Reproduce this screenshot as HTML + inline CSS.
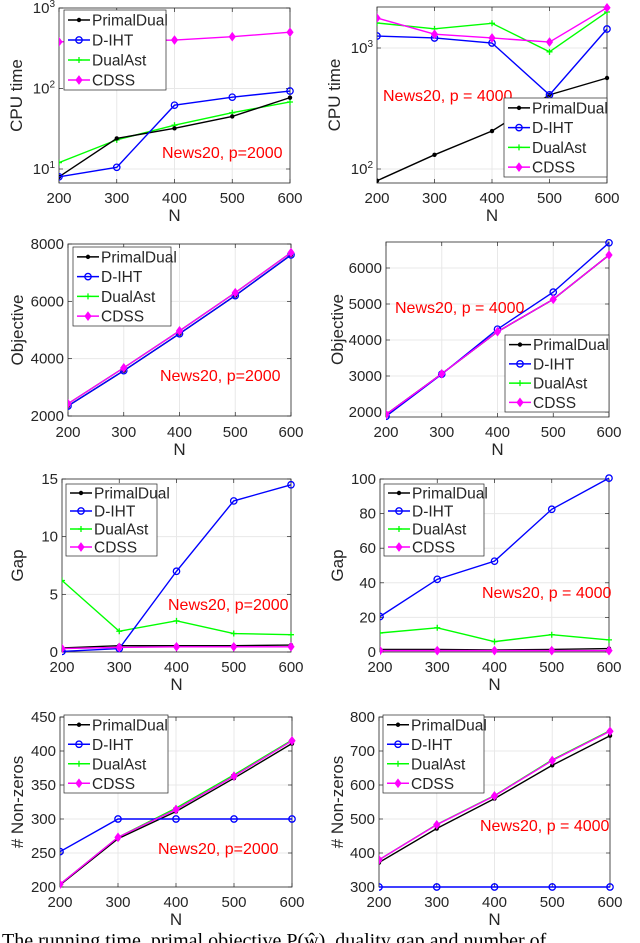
<!DOCTYPE html>
<html><head><meta charset="utf-8"><style>
html,body{margin:0;padding:0;background:#fff;width:640px;height:943px;overflow:hidden}
svg{display:block}
text{font-family:"Liberation Sans",sans-serif;fill:#262626}
</style></head><body>
<svg id="s" width="640" height="943" viewBox="0 0 640 943" xmlns="http://www.w3.org/2000/svg">
<text x="2" y="947" style="font-family:'Liberation Serif',serif;font-size:20px;fill:#000">The running time, primal objective P(ŵ), duality gap and number of</text>
</svg>
<script>
const S=document.getElementById('s');let h='';
const N=[200,300,400,500,600];
const C={PD:'#000',DI:'#0000ff',DA:'#00ff00',CD:'#ff00ff'};
const NM={PD:'PrimalDual',DI:'D-IHT',DA:'DualAst',CD:'CDSS'};
function mk(k,x,y){
 if(k=='PD')return `<circle cx="${x}" cy="${y}" r="2.2" fill="#000"/>`;
 if(k=='DI')return `<circle cx="${x}" cy="${y}" r="3.2" fill="none" stroke="#0000ff" stroke-width="1.3"/>`;
 if(k=='DA')return `<path d="M${x-3} ${y}h6M${x} ${y-3}v6" stroke="#00ff00" stroke-width="1.3"/>`;
 return `<path d="M${x} ${y-4}L${x+3} ${y}L${x} ${y+4}L${x-3} ${y}Z" fill="#ff00ff" stroke="#ff00ff"/>`;
}
function panel(p){
 const xs=n=>p.x0+(n-200)*(p.x1-p.x0)/400;
 N.forEach(n=>{h+=`<line x1="${xs(n)}" x2="${xs(n)}" y1="${p.t}" y2="${p.b}" stroke="#e8e8e8"/>`});
 p.yt.forEach(([v,l])=>{const y=p.ys(v);h+=`<line x1="${p.x0}" x2="${p.x1}" y1="${y}" y2="${y}" stroke="#e8e8e8"/>`;
  h+=`<line x1="${p.x0}" x2="${p.x0+4}" y1="${y}" y2="${y}" stroke="#262626" stroke-width="0.7"/><line x1="${p.x1}" x2="${p.x1-4}" y1="${y}" y2="${y}" stroke="#262626" stroke-width="0.7"/>`;
  h+=`<text x="${p.x0-4}" y="${y+5}" text-anchor="end" font-size="15">${l}</text>`;});
 N.forEach(n=>{const x=xs(n);h+=`<line x1="${x}" x2="${x}" y1="${p.b}" y2="${p.b-4}" stroke="#262626" stroke-width="0.7"/><line x1="${x}" x2="${x}" y1="${p.t}" y2="${p.t+4}" stroke="#262626" stroke-width="0.7"/><text x="${x}" y="${p.xl}" text-anchor="middle" font-size="15">${n}</text>`});
 h+=`<rect x="${p.x0}" y="${p.t}" width="${p.x1-p.x0}" height="${p.b-p.t}" fill="none" stroke="#262626" stroke-width="0.8"/>`;
 h+=`<text x="${(p.x0+p.x1)/2}" y="${p.xl+18}" text-anchor="middle" font-size="17">N</text>`;
 const cy=(p.t+p.b)/2;
 h+=`<text x="${p.lx}" y="${cy}" text-anchor="middle" font-size="17" transform="rotate(-90 ${p.lx} ${cy})" dy="5">${p.lab}</text>`;
 h+=`<svg x="0" y="0" width="640" height="943"><clipPath id="c${p.id}"><rect x="${p.x0}" y="${p.t-6}" width="${p.x1-p.x0+6}" height="${p.b-p.t+12}"/></clipPath><g clip-path="url(#c${p.id})">`;
 ['DA','PD','DI','CD'].forEach(k=>{const pts=p.d[k].map((v,i)=>[xs(N[i]),p.ys(v)]);
  h+=`<polyline points="${pts.map(q=>q.join(',')).join(' ')}" fill="none" stroke="${C[k]}" stroke-width="1.4"/>`;
  pts.forEach(q=>h+=mk(k,q[0],q[1]));});
 h+=`</g></svg>`;
 h+=`<text x="${p.tx}" y="${p.ty}" font-size="16" style="fill:#ff0000">${p.txt}</text>`;
 const L=p.L;h+=`<rect x="${L[0]}" y="${L[1]}" width="${L[2]-L[0]}" height="${L[3]-L[1]}" fill="#fff" stroke="#262626" stroke-width="0.7"/>`;
 const dy=(L[3]-L[1])/4;
 ['PD','DI','DA','CD'].forEach((k,i)=>{const y=L[1]+dy*(i+0.5);
  h+=`<line x1="${L[0]+4}" x2="${L[0]+26}" y1="${y}" y2="${y}" stroke="${C[k]}" stroke-width="1.4"/>`+mk(k,L[0]+15,y);
  h+=`<text x="${L[0]+28}" y="${y+5.5}" font-size="15.5">${NM[k]}</text>`;});
}
const sup=(e)=>`10<tspan dy="-6" font-size="10">${e}</tspan>`;
panel({id:1,x0:59,x1:290,t:8,b:183,ys:v=>169-(Math.log10(v)-1)*80.5,yt:[[10,sup(1)],[100,sup(2)],[1000,sup(3)]],xl:203,lx:17,lab:'CPU time',
 d:{PD:[8,24,32,45,77],DI:[8,10.5,62,78,93],DA:[12,23,35,50,68],CD:[380,390,400,440,500]},
 tx:162,ty:158,txt:'News20, p=2000',L:[64,10,166,90]});
panel({id:2,x0:377,x1:607,t:7,b:183,ys:v=>169-(Math.log10(v)-2)*121,yt:[[100,sup(2)],[1000,sup(3)]],xl:203,lx:335,lab:'CPU time',
 d:{PD:[80,131,206,410,565],DI:[1256,1210,1100,410,1435],DA:[1610,1440,1600,930,1985],CD:[1770,1300,1210,1120,2150]},
 tx:383,ty:101,txt:'News20, p = 4000',L:[504,98,607,177]});
panel({id:3,x0:68,x1:291,t:244,b:416,ys:v=>416-(v-2000)*(172/6000),yt:[[2000,2000],[4000,4000],[6000,6000],[8000,8000]],xl:437,lx:18,lab:'Objective',
 d:{PD:[2350,3580,4870,6200,7620],DI:[2350,3580,4870,6200,7620],DA:[2430,3680,4970,6300,7700],CD:[2430,3680,4970,6300,7700]},
 tx:160,ty:381,txt:'News20, p=2000',L:[73,247,171,326]});
panel({id:4,x0:386,x1:609,t:242,b:417,ys:v=>412-(v-2000)*0.036,yt:[[2000,2000],[3000,3000],[4000,4000],[5000,5000],[6000,6000]],xl:437,lx:338,lab:'Objective',
 d:{PD:[1930,3060,4230,5130,6360],DI:[1880,3050,4300,5330,6700],DA:[1930,3060,4230,5130,6360],CD:[1930,3060,4230,5130,6360]},
 tx:395,ty:313,txt:'News20, p = 4000',L:[505,335,609,412]});
panel({id:5,x0:62,x1:291,t:479,b:652,ys:v=>652-v*(173/15),yt:[[0,0],[5,5],[10,10],[15,15]],xl:672,lx:18,lab:'Gap',
 d:{PD:[0.35,0.55,0.55,0.55,0.6],DI:[0.05,0.3,7,13.1,14.5],DA:[6.2,1.8,2.7,1.6,1.5],CD:[0.3,0.4,0.45,0.45,0.45]},
 tx:168,ty:610,txt:'News20, p=2000',L:[66,484,157,556]});
panel({id:6,x0:380,x1:609,t:479,b:652,ys:v=>652-v*1.73,yt:[[0,0],[20,20],[40,40],[60,60],[80,80],[100,100]],xl:672,lx:338,lab:'Gap',
 d:{PD:[1.5,1.5,1.2,1.5,2],DI:[20.5,42,52.5,82.5,100.5],DA:[11,14,6,10,7],CD:[0.8,0.8,0.8,0.8,0.8]},
 tx:482,ty:598,txt:'News20, p = 4000',L:[384,484,484,556]});
panel({id:7,x0:60,x1:292,t:717,b:887,ys:v=>887-(v-200)*0.68,yt:[[200,200],[250,250],[300,300],[350,350],[400,400],[450,450]],xl:907,lx:18,lab:'# Non-zeros',
 d:{PD:[203,271,311,360,411],DI:[252,300,300,300,300],DA:[204,273,316,365,416],CD:[204,273,314,363,415]},
 tx:158,ty:854,txt:'News20, p=2000',L:[64,715,168,793]});
panel({id:8,x0:379,x1:610,t:717,b:887,ys:v=>887-(v-300)*0.34,yt:[[300,300],[400,400],[500,500],[600,600],[700,700],[800,800]],xl:907,lx:338,lab:'# Non-zeros',
 d:{PD:[372,472,560,658,745],DI:[300,300,300,300,300],DA:[380,484,569,674,760],CD:[380,483,568,672,758]},
 tx:480,ty:831,txt:'News20, p = 4000',L:[383,715,484,793]});
S.insertAdjacentHTML('beforeend',h);
</script>
</body></html>
